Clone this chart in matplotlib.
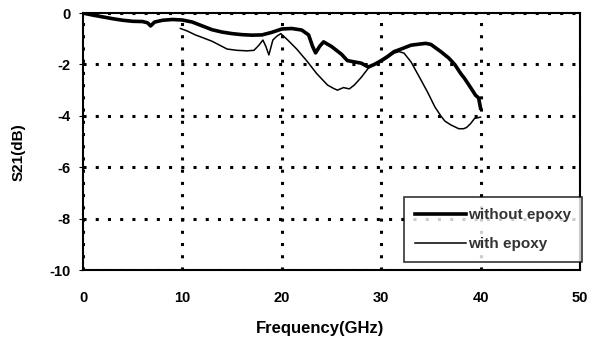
import matplotlib.pyplot as plt

plt.rcParams['font.family'] = ['Liberation Sans', 'DejaVu Sans']
plt.rcParams['font.weight'] = 'bold'
plt.rcParams['axes.unicode_minus'] = False

# without epoxy (thick)
without_f = [0, 1, 2, 3, 4, 5, 6, 6.5, 6.8, 7.2, 8, 9, 10, 11, 12, 13, 14, 15, 16, 17, 18, 19, 20, 21, 22,
             22.7, 23.1, 23.4, 23.8, 24.2, 25, 26, 26.6, 27.3, 28, 28.7, 29.3, 30, 30.6, 31.3, 32, 33, 34,
             34.5, 35, 36, 36.8, 37.4, 38, 38.4, 39, 39.5, 39.8, 40]
without_s = [0, -0.08, -0.15, -0.22, -0.28, -0.32, -0.33, -0.38, -0.5, -0.35, -0.28, -0.25, -0.27, -0.35,
             -0.5, -0.65, -0.74, -0.8, -0.84, -0.86, -0.85, -0.75, -0.62, -0.6, -0.66,
             -0.85, -1.3, -1.55, -1.3, -1.12, -1.3, -1.6, -1.85, -1.9, -1.95, -2.1, -2.0, -1.85, -1.7,
             -1.5, -1.4, -1.25, -1.2, -1.18, -1.22, -1.5, -1.75, -2.0, -2.35, -2.55, -2.9, -3.2, -3.3, -3.7]

# with epoxy (thin)
with_f = [9.8, 10.5, 11.3, 12, 13, 14, 14.5, 15.5, 16.5, 17.2, 17.7, 18.1, 18.4, 18.7, 19.1, 19.5, 19.9,
          20.6, 21.5, 22.6, 23.5, 24.6, 25.2, 25.6, 26.2, 26.8, 27.3, 28, 28.7, 29.3, 30, 30.6, 31.3,
          31.8, 32.3, 33, 34, 34.7, 35.4, 36, 36.4, 37, 37.8, 38.3, 38.6, 39, 39.4, 40]
with_s = [-0.6, -0.7, -0.85, -0.95, -1.1, -1.3, -1.4, -1.45, -1.47, -1.45, -1.25, -1.05, -1.3, -1.63,
          -1.05, -0.9, -0.8, -1.05, -1.4, -1.9, -2.35, -2.8, -2.93, -3.0, -2.9, -2.95, -2.8, -2.5,
          -2.15, -2.0, -1.9, -1.75, -1.56, -1.5, -1.56, -1.9, -2.6, -3.1, -3.65, -4.0, -4.2, -4.35,
          -4.5, -4.5, -4.45, -4.3, -4.1, -4.05]

fig = plt.figure(figsize=(6.06, 3.44), dpi=100)
ax = fig.add_axes([0.137, 0.215, 0.82, 0.747])

ax.plot(without_f, without_s, color='black', lw=2.6, label='without epoxy')
ax.plot(with_f, with_s, color='black', lw=1.1, label='with epoxy')

ax.set_xlim(0, 50)
ax.set_ylim(-10, 0)
ax.set_xticks(range(0, 51, 10))
ax.set_yticks(range(-10, 1, 2))
ax.grid(True, color='black', linestyle=(0, (1, 3)), linewidth=2.2)
ax.tick_params(axis='x', length=0, pad=15, labelsize=10.5)
ax.tick_params(axis='y', length=3, pad=6, labelsize=10.5)
for s in ax.spines.values():
    s.set_linewidth(1.5)

ax.set_xlabel('Frequency(GHz)', fontsize=12, fontweight='bold')
ax.xaxis.set_label_coords(0.478, -0.2)
ax.set_ylabel('S21(dB)', fontsize=11, fontweight='bold')
ax.yaxis.set_label_coords(-0.115, 0.46)

leg = ax.legend(loc='lower right', bbox_to_anchor=(1.005, 0.03), frameon=True,
                prop={'size': 11, 'weight': 'bold'},
                fancybox=False, edgecolor='black', handlelength=3.3, handletextpad=0.15,
                borderaxespad=0, labelspacing=0.95, borderpad=0.75)
leg.get_frame().set_linewidth(1.2)
for t in leg.get_texts():
    t.set_color('#333333')

plt.savefig('out.png', dpi=100)
